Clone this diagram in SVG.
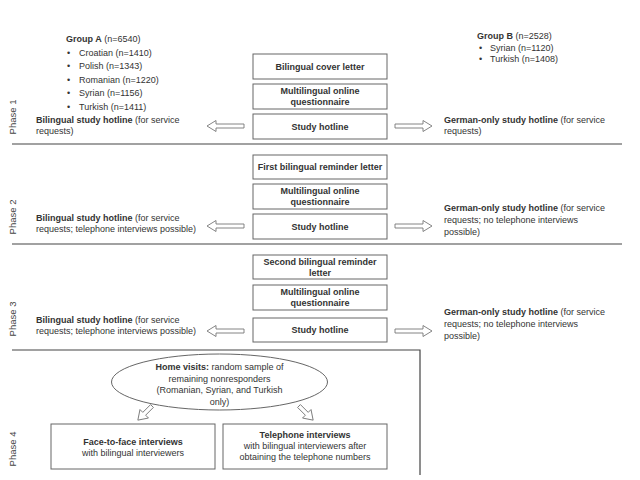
<svg xmlns="http://www.w3.org/2000/svg" width="640" height="480" viewBox="0 0 640 480">
<style>
text{font-family:"Liberation Sans",Arial,sans-serif;font-size:9px;fill:#333}
.b{font-weight:bold}
.c{text-anchor:middle}
.box{fill:#fff;stroke:#666;stroke-width:1}
.sep{stroke:#444;stroke-width:1.2;fill:none}
.arr{fill:#fff;stroke:#777;stroke-width:0.9}
.ph{font-size:9.5px;fill:#444;text-anchor:middle}
</style>
<defs>
<path id="ar" d="M0,-2 H28 V-5.5 L37,0 L28,5.5 V2 H0 Z"/>
<path id="sa" d="M0,-2 H11 V-6 L20,0 L11,6 V2 H0 Z"/>
</defs>
<rect width="640" height="480" fill="#fff"/>

<g id="separators">
<line class="sep" x1="12" y1="144" x2="622" y2="144"/>
<line class="sep" x1="12" y1="244" x2="622" y2="244"/>
<polyline class="sep" points="12,350 420,350 420,475"/>
</g>

<g id="phase-labels">
<text class="ph" transform="translate(16,117) rotate(-90)">Phase 1</text>
<text class="ph" transform="translate(16,217) rotate(-90)">Phase 2</text>
<text class="ph" transform="translate(16,319) rotate(-90)">Phase 3</text>
<text class="ph" transform="translate(16,449) rotate(-90)">Phase 4</text>
</g>

<g id="groupA">
<text x="66" y="42"><tspan class="b">Group A</tspan> (n=6540)</text>
<text x="67" y="55.6">•</text><text x="79" y="55.6">Croatian (n=1410)</text>
<text x="67" y="69.2">•</text><text x="79" y="69.2">Polish (n=1343)</text>
<text x="67" y="82.8">•</text><text x="79" y="82.8">Romanian (n=1220)</text>
<text x="67" y="96.4">•</text><text x="79" y="96.4">Syrian (n=1156)</text>
<text x="67" y="110">•</text><text x="79" y="110">Turkish (n=1411)</text>
</g>

<g id="groupB">
<text x="477" y="39"><tspan class="b">Group B</tspan>  (n=2528)</text>
<text x="479" y="50.5">•</text><text x="490" y="50.5">Syrian (n=1120)</text>
<text x="479" y="62">•</text><text x="490" y="62">Turkish (n=1408)</text>
</g>

<g id="p1-left"><text x="36" y="123"><tspan class="b">Bilingual study hotline</tspan> (for service</text><text x="36" y="134">requests)</text></g>
<g id="p1-right"><text x="444" y="123"><tspan class="b">German-only study hotline</tspan> (for service</text><text x="444" y="134">requests)</text></g>
<g id="p1-cover"><rect class="box" x="253" y="54" width="134" height="25"/><text class="b c" x="320" y="69.5">Bilingual cover letter</text></g>
<g id="p1-quest"><rect class="box" x="253" y="84" width="134" height="25"/><text class="b c" x="320" y="94">Multilingual online</text><text class="b c" x="320" y="105">questionnaire</text></g>
<g id="p1-hotline"><rect class="box" x="253" y="114" width="134" height="25"/><text class="b c" x="320" y="129.5">Study hotline</text></g>

<g id="p2-left"><text x="36" y="221"><tspan class="b">Bilingual study hotline</tspan> (for service</text><text x="36" y="232">requests; telephone interviews possible)</text></g>
<g id="p2-right"><text x="444" y="211"><tspan class="b">German-only study hotline</tspan> (for service</text><text x="444" y="223">requests;  no telephone interviews</text><text x="444" y="235">possible)</text></g>
<g id="p2-reminder"><rect class="box" x="253" y="155" width="134" height="24"/><text class="b c" x="320" y="170">First bilingual reminder letter</text></g>
<g id="p2-quest"><rect class="box" x="253" y="184" width="134" height="25"/><text class="b c" x="320" y="194">Multilingual online</text><text class="b c" x="320" y="205">questionnaire</text></g>
<g id="p2-hotline"><rect class="box" x="253" y="214" width="134" height="25"/><text class="b c" x="320" y="229.5">Study hotline</text></g>

<g id="p3-left"><text x="36" y="323"><tspan class="b">Bilingual study hotline</tspan> (for service</text><text x="36" y="334">requests; telephone interviews possible)</text></g>
<g id="p3-right"><text x="444" y="315"><tspan class="b">German-only study hotline</tspan> (for service</text><text x="444" y="327">requests;  no telephone interviews</text><text x="444" y="339">possible)</text></g>
<g id="p3-reminder"><rect class="box" x="253" y="255" width="134" height="24"/><text class="b c" x="320" y="265">Second bilingual reminder</text><text class="b c" x="320" y="276">letter</text></g>
<g id="p3-quest"><rect class="box" x="253" y="285" width="134" height="25"/><text class="b c" x="320" y="295">Multilingual online</text><text class="b c" x="320" y="306">questionnaire</text></g>
<g id="p3-hotline"><rect class="box" x="253" y="318" width="134" height="24"/><text class="b c" x="320" y="333">Study hotline</text></g>

<g id="p4-homevisits"><ellipse class="box" cx="219.5" cy="382" rx="108" ry="28"/>
<text class="c" x="219.5" y="370"><tspan class="b">Home visits:</tspan> random sample of</text>
<text class="c" x="219.5" y="381.5">remaining nonresponders</text>
<text class="c" x="219.5" y="393">(Romanian, Syrian, and Turkish</text>
<text class="c" x="219.5" y="404.5">only)</text></g>
<g id="p4-face"><rect class="box" x="51" y="424" width="164" height="45"/><text class="b c" x="133" y="445">Face-to-face interviews</text><text class="c" x="133" y="456">with bilingual interviewers</text></g>
<g id="p4-phone"><rect class="box" x="223" y="424" width="164" height="45"/><text class="b c" x="305" y="438">Telephone interviews</text><text class="c" x="305" y="449">with bilingual interviewers after</text><text class="c" x="305" y="460">obtaining the telephone numbers</text></g>

<g id="connectors">
<use href="#ar" class="arr" transform="translate(244,126) scale(-1,1)"/>
<use href="#ar" class="arr" transform="translate(395,126)"/>
<use href="#ar" class="arr" transform="translate(244,226) scale(-1,1)"/>
<use href="#ar" class="arr" transform="translate(395,226)"/>
<use href="#ar" class="arr" transform="translate(244,331) scale(-1,1)"/>
<use href="#ar" class="arr" transform="translate(395,331)"/>
<use href="#sa" class="arr" transform="translate(152,406) rotate(135)"/>
<use href="#sa" class="arr" transform="translate(299,406) rotate(45)"/>
</g>
</svg>
